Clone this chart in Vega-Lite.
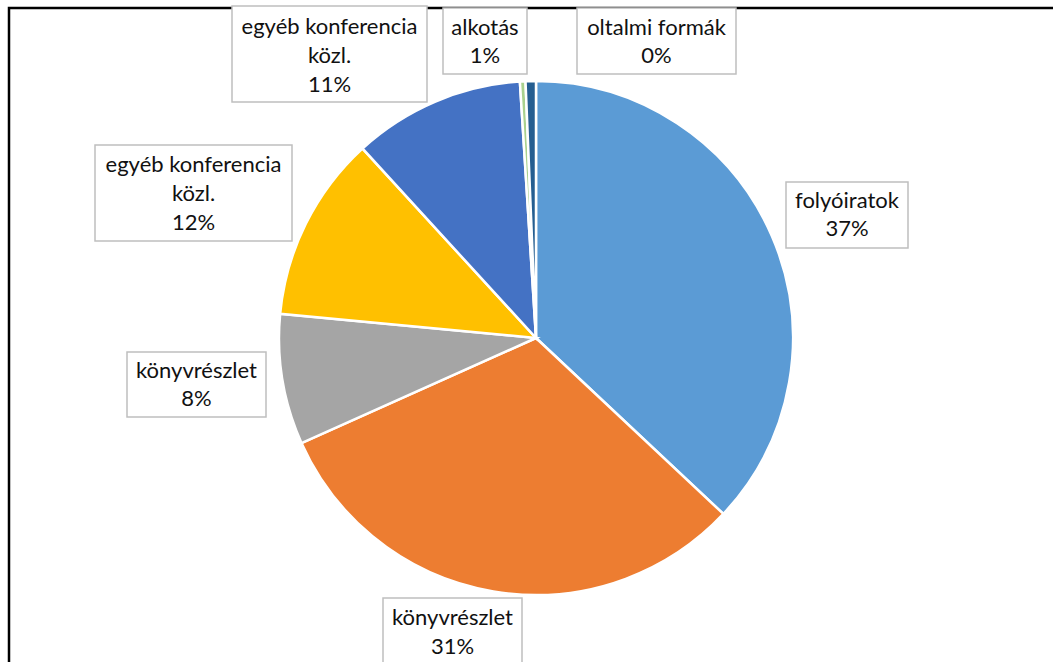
{
  "$schema": "https://vega.github.io/schema/vega-lite/v6.json",
  "width": 1054,
  "height": 660,
  "autosize": {"type": "none"},
  "padding": {"left": 9, "top": 8, "right": -10, "bottom": -6},
  "background": "white",
  "view": {"stroke": "black", "strokeWidth": 2.5, "fill": "white"},
  "config": {"view": {"stroke": "black", "strokeWidth": 2.5}},
  "data": {
    "values": [
      {"sorszam": 1, "kategoria": "folyóiratok", "ertek": 37.0, "cimke": ["folyóiratok", "37%"]},
      {"sorszam": 2, "kategoria": "könyvrészlet", "ertek": 31.3, "cimke": ["könyvrészlet", "31%"]},
      {"sorszam": 3, "kategoria": "könyvrészlet", "ertek": 8.2, "cimke": ["könyvrészlet", "8%"]},
      {"sorszam": 4, "kategoria": "egyéb konferencia közl.", "ertek": 11.7, "cimke": ["egyéb konferencia", "közl.", "12%"]},
      {"sorszam": 5, "kategoria": "egyéb konferencia közl.", "ertek": 10.8, "cimke": ["egyéb konferencia", "közl.", "11%"]},
      {"sorszam": 6, "kategoria": "alkotás", "ertek": 0.35, "cimke": ["alkotás", "1%"]},
      {"sorszam": 7, "kategoria": "oltalmi formák", "ertek": 0.65, "cimke": ["oltalmi formák", "0%"]}
    ]
  },
  "layer": [
    {
      "mark": {"type": "arc", "radius": 257, "stroke": "white", "strokeWidth": 2.5},
      "encoding": {
        "theta": {"field": "ertek", "type": "quantitative", "stack": true},
        "order": {"field": "sorszam", "type": "quantitative"},
        "color": {
          "field": "sorszam", "type": "nominal", "legend": null,
          "scale": {"domain": [1, 2, 3, 4, 5, 6, 7], "range": ["#5B9BD5", "#ED7D31", "#A5A5A5", "#FFC000", "#4472C4", "#A9D18E", "#255E91"]}
        }
      }
    },
    {
      "mark": {"type": "point", "filled": true, "fill": "white", "stroke": "#bfbfbf", "strokeWidth": 1.5, "size": 4, "opacity": 1, "fillOpacity": 1, "strokeOpacity": 1},
      "encoding": {
        "shape": {
          "field": "sorszam", "type": "nominal", "legend": null,
          "scale": {"domain": [1, 2, 3, 4, 5, 6, 7], "range": [
            "M250,-156H372V-90H250Z",
            "M-153,260H-14V326H-153Z",
            "M-409,14H-270V79H-409Z",
            "M-441,-193H-244V-97H-441Z",
            "M-304,-332H-109V-236H-304Z",
            "M-93,-330H-9V-264H-93Z",
            "M41,-330H200V-264H41Z"
          ]}
        }
      }
    },
    {
      "transform": [{"filter": "datum.sorszam === 1"}],
      "mark": {"type": "text", "font": "Lato", "fontSize": 22, "lineHeight": 28, "align": "center", "baseline": "middle", "color": "#111111", "dx": 311, "dy": -137},
      "encoding": {"text": {"field": "cimke", "type": "nominal"}}
    },
    {
      "transform": [{"filter": "datum.sorszam === 2"}],
      "mark": {"type": "text", "font": "Lato", "fontSize": 22, "lineHeight": 29, "align": "center", "baseline": "middle", "color": "#111111", "dx": -83.5, "dy": 280},
      "encoding": {"text": {"field": "cimke", "type": "nominal"}}
    },
    {
      "transform": [{"filter": "datum.sorszam === 3"}],
      "mark": {"type": "text", "font": "Lato", "fontSize": 22, "lineHeight": 28, "align": "center", "baseline": "middle", "color": "#111111", "dx": -339.5, "dy": 32.5},
      "encoding": {"text": {"field": "cimke", "type": "nominal"}}
    },
    {
      "transform": [{"filter": "datum.sorszam === 4"}],
      "mark": {"type": "text", "font": "Lato", "fontSize": 22, "lineHeight": 29, "align": "center", "baseline": "middle", "color": "#111111", "dx": -342.5, "dy": -173},
      "encoding": {"text": {"field": "cimke", "type": "nominal"}}
    },
    {
      "transform": [{"filter": "datum.sorszam === 5"}],
      "mark": {"type": "text", "font": "Lato", "fontSize": 22, "lineHeight": 29, "align": "center", "baseline": "middle", "color": "#111111", "dx": -206.5, "dy": -311},
      "encoding": {"text": {"field": "cimke", "type": "nominal"}}
    },
    {
      "transform": [{"filter": "datum.sorszam === 6"}],
      "mark": {"type": "text", "font": "Lato", "fontSize": 22, "lineHeight": 28, "align": "center", "baseline": "middle", "color": "#111111", "dx": -51, "dy": -310},
      "encoding": {"text": {"field": "cimke", "type": "nominal"}}
    },
    {
      "transform": [{"filter": "datum.sorszam === 7"}],
      "mark": {"type": "text", "font": "Lato", "fontSize": 22, "lineHeight": 28, "align": "center", "baseline": "middle", "color": "#111111", "dx": 120.5, "dy": -310},
      "encoding": {"text": {"field": "cimke", "type": "nominal"}}
    }
  ]
}
